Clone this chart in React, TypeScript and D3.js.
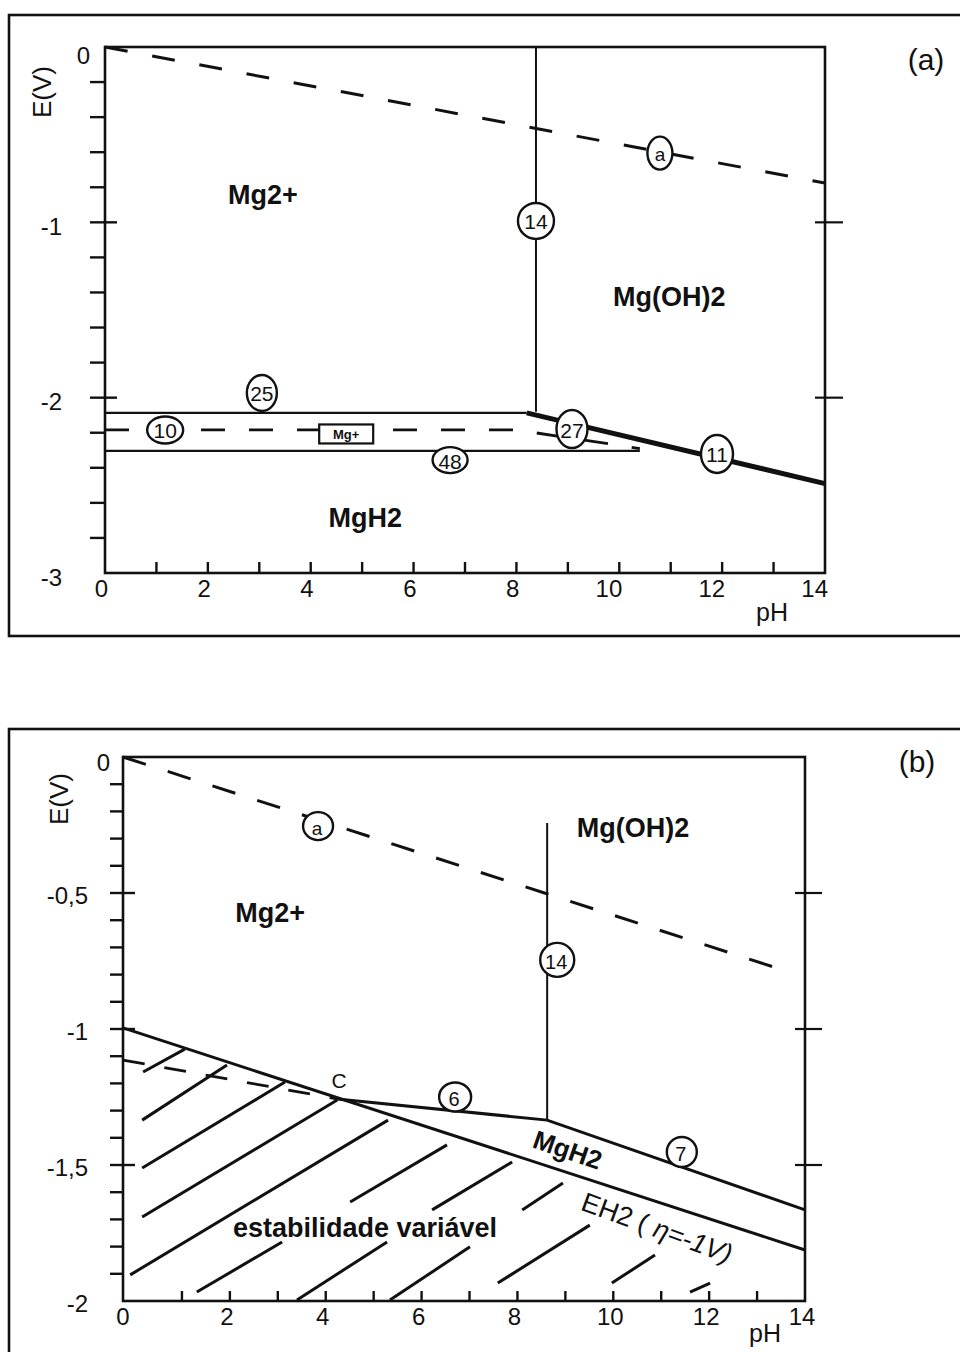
import React from 'react';
import * as d3 from 'd3';

const FONT = "'Liberation Sans', Arial, Helvetica, sans-serif";

type Pt = [number, number];

// ---------------- Panel (a) data ----------------
const phTicksA = [1, 2, 3, 4, 5, 6, 7, 8, 9, 10, 11, 12, 13];
const phLabelsA = [0, 2, 4, 6, 8, 10, 12, 14];
const eMinorTicksA = [-0.2, -0.4, -0.6, -0.8, -1.2, -1.4, -1.6, -1.8, -2.2, -2.4, -2.6, -2.8];
const eMajorTicksA = [-1, -2];
const eLabelValuesA = [0, -1, -2, -3];
const eLabelTextA = ['0', '-1', '-2', '-3'];

const waterLineA: Pt[] = [[0, 0], [14, -0.776]];
const hydroxideBoundaryA: Pt[] = [[8.38, 0], [8.38, -2.08]];
const upperLineA: Pt[] = [[0, -2.087], [8.2, -2.087]];
const mgPlusLineA: Pt[] = [[0, -2.184], [8.0, -2.184], [10.4, -2.29]];
const lowerLineA: Pt[] = [[0, -2.304], [10.4, -2.304]];
const thickLineA: Pt[] = [[8.2, -2.087], [14, -2.49]];

const markersA = [
  { label: 'a', pH: 10.79, E: -0.605 },
  { label: '14', pH: 8.38, E: -0.992 },
  { label: '25', pH: 3.05, E: -1.973 },
  { label: '10', pH: 1.17, E: -2.184 },
  { label: '48', pH: 6.71, E: -2.356 },
  { label: '27', pH: 9.08, E: -2.179 },
  { label: '11', pH: 11.9, E: -2.321 },
];
const regionsA = [
  { text: 'Mg2+', pH: 3.07, E: -0.844 },
  { text: 'Mg(OH)2', pH: 10.97, E: -1.426 },
  { text: 'MgH2', pH: 5.06, E: -2.686 },
];
const mgPlusA = { text: 'Mg+', pH: 4.69, E: -2.207 };

// ---------------- Panel (b) data ----------------
const phTicksB = [1, 2, 3, 4, 5, 6, 7, 8, 9, 10, 11, 12, 13];
const phLabelsB = [0, 2, 4, 6, 8, 10, 12, 14];
const eMinorTicksB = [-0.1, -0.2, -0.3, -0.4, -0.6, -0.7, -0.8, -0.9, -1.1, -1.2, -1.3, -1.4, -1.6, -1.7, -1.8, -1.9];
const eMajorTicksB = [-0.5, -1, -1.5];
const eLabelValuesB = [0, -0.5, -1, -1.5, -2];
const eLabelTextB = ['0', '-0,5', '-1', '-1,5', '-2'];

const waterLineB: Pt[] = [[-0.23, 0], [13.75, -0.795]];
const eh2LineB: Pt[] = [[-0.23, -0.996], [14, -1.8125]];
const dashedHydrideB: Pt[] = [[-0.23, -1.114], [4.235, -1.257]];
const hydrideUpperB: Pt[] = [[4.235, -1.257], [8.62, -1.335], [14, -1.665]];
const hydroxideBoundaryB: Pt[] = [[8.62, -0.243], [8.62, -1.335]];
const hatchB: [Pt, Pt][] = [
  [[0.19, -1.158], [1.06, -1.074]],
  [[0.17, -1.335], [1.94, -1.132]],
  [[0.17, -1.511], [3.15, -1.195]],
  [[0.17, -1.691], [4.24, -1.261]],
  [[-0.08, -1.904], [5.3, -1.335]],
  [[1.31, -1.967], [3.09, -1.783]],
  [[4.51, -1.636], [6.53, -1.426]],
  [[3.4, -1.996], [5.28, -1.783]],
  [[6.22, -1.665], [7.89, -1.489]],
  [[5.34, -1.996], [7.01, -1.801]],
  [[8.1, -1.665], [8.95, -1.566]],
  [[7.59, -1.934], [9.51, -1.721]],
  [[9.97, -1.934], [10.87, -1.831]],
  [[11.6, -1.967], [12.02, -1.934]],
];
const markersB = [
  { label: 'a', pH: 3.84, E: -0.254 },
  { label: '14', pH: 8.83, E: -0.746 },
  { label: '6', pH: 6.7, E: -1.25 },
  { label: '7', pH: 11.43, E: -1.452 },
];
const regionsB = [
  { text: 'Mg(OH)2', pH: 10.41, E: -0.261 },
  { text: 'Mg2+', pH: 2.84, E: -0.574 },
  { text: 'estabilidade variável', pH: 4.82, E: -1.732 },
];
const pointCB = { text: 'C', pH: 4.28, E: -1.19 };
const hydrideLabelB = { text: 'MgH2', pH: 9.05, E: -1.445 };
const eh2LabelB = { pH: 10.91, E: -1.732 };

// ---------------- styles (sizes of marker ellipses) ----------------
const markerSizeA: Record<string, [number, number]> = {
  a: [12.5, 16.5], '14': [18, 18], '25': [15, 18], '10': [18, 13.5], '48': [17.5, 13], '27': [15.5, 19], '11': [16, 19],
};
const markerSizeB: Record<string, [number, number]> = {
  a: [15, 14], '14': [17, 17], '6': [16, 14.5], '7': [15, 15],
};

export default function App() {
  const xA = d3.scaleLinear().domain([0, 14]).range([105, 825]);
  const yA = d3.scaleLinear().domain([0, -3]).range([47, 573]);
  const xB = d3.scaleLinear().domain([-0.23, 14]).range([123, 805]);
  const yB = d3.scaleLinear().domain([0, -2]).range([757, 1301]);

  const lineA = d3.line<Pt>().x((d) => xA(d[0])).y((d) => yA(d[1]));
  const lineB = d3.line<Pt>().x((d) => xB(d[0])).y((d) => yB(d[1]));

  const stroke = '#111';
  const tickFont = 24;
  const regionFont = 27;

  const frame = (x: d3.ScaleLinear<number, number>, y: d3.ScaleLinear<number, number>) => {
    const [x0, x1] = x.range();
    const [y0, y1] = y.range();
    return <rect x={x0} y={y0} width={x1 - x0} height={y1 - y0} fill="none" stroke={stroke} strokeWidth={2.6} />;
  };

  return (
    <svg
      width={960}
      height={1352}
      viewBox="0 0 960 1352"
      style={{ position: 'absolute', left: 0, top: 0, display: 'block', background: '#fff' }}
      fontFamily={FONT}
    >
      <rect x={0} y={0} width={960} height={1352} fill="#fff" />

      {/* ================= PANEL (a) ================= */}
      <rect x={9} y={15} width={960} height={621} fill="none" stroke={stroke} strokeWidth={2.6} />
      <text x={926} y={59} fontSize={30} textAnchor="middle" dominantBaseline="central" fill={stroke}>(a)</text>

      <path d={lineA(waterLineA) || ''} fill="none" stroke={stroke} strokeWidth={3} strokeDasharray="23 25" />
      <path d={lineA(hydroxideBoundaryA) || ''} fill="none" stroke={stroke} strokeWidth={2} />
      <path d={lineA(upperLineA) || ''} fill="none" stroke={stroke} strokeWidth={2.2} />
      <path d={lineA(mgPlusLineA) || ''} fill="none" stroke={stroke} strokeWidth={2.8} strokeDasharray="24 24" />
      <path d={lineA(lowerLineA) || ''} fill="none" stroke={stroke} strokeWidth={2.2} />
      <path d={lineA(thickLineA) || ''} fill="none" stroke={stroke} strokeWidth={5} />

      {frame(xA, yA)}

      {eMinorTicksA.map((v) => (
        <line key={'amn' + v} x1={xA.range()[0] - 15} x2={xA.range()[0]} y1={yA(v)} y2={yA(v)} stroke={stroke} strokeWidth={2.4} />
      ))}
      {eMajorTicksA.map((v) => (
        <g key={'amj' + v}>
          <line x1={xA.range()[0] - 15} x2={xA.range()[0] + 12} y1={yA(v)} y2={yA(v)} stroke={stroke} strokeWidth={2.4} />
          <line x1={xA.range()[1] - 10} x2={xA.range()[1] + 18} y1={yA(v)} y2={yA(v)} stroke={stroke} strokeWidth={2.2} />
        </g>
      ))}
      {eLabelValuesA.map((v, i) => (
        <text key={'alb' + v} x={v === 0 ? xA.range()[0] - 15 : xA.range()[0] - 43} y={yA(v) + (v === 0 ? 8 : 4)}
          fontSize={tickFont} textAnchor="end" dominantBaseline="central" fill={stroke}>{eLabelTextA[i]}</text>
      ))}
      <text transform={`translate(42,92) rotate(-90)`} fontSize={26} textAnchor="middle" dominantBaseline="central" fill={stroke}>E(V)</text>

      {phTicksA.map((v) => (
        <line key={'axt' + v} x1={xA(v)} x2={xA(v)} y1={yA.range()[1]} y2={yA.range()[1] - 11} stroke={stroke} strokeWidth={2.4} />
      ))}
      {phLabelsA.map((v) => (
        <text key={'axl' + v} x={xA(v) + 3} y={588} fontSize={tickFont} textAnchor="end" dominantBaseline="central" fill={stroke}>{v}</text>
      ))}
      <text x={772} y={612} fontSize={25} textAnchor="middle" dominantBaseline="central" fill={stroke}>pH</text>

      <g transform={`translate(${xA(mgPlusA.pH)},${yA(mgPlusA.E)})`}>
        <rect x={-27} y={-9.5} width={54} height={19} fill="#fff" stroke={stroke} strokeWidth={2.2} />
        <text x={0} y={0.5} fontSize={13} fontWeight="bold" textAnchor="middle" dominantBaseline="central" fill={stroke}>{mgPlusA.text}</text>
      </g>

      {markersA.map((m) => {
        const [rx, ry] = markerSizeA[m.label];
        return (
          <g key={'amk' + m.label} transform={`translate(${xA(m.pH)},${yA(m.E)})`}>
            <ellipse rx={rx} ry={ry} fill="#fff" stroke={stroke} strokeWidth={2.4} />
            <text x={0} y={1} fontSize={m.label === 'a' ? 19 : 21} textAnchor="middle" dominantBaseline="central" fill={stroke}>{m.label}</text>
          </g>
        );
      })}

      {regionsA.map((r) => (
        <text key={'arg' + r.text} x={xA(r.pH)} y={yA(r.E)} fontSize={regionFont} fontWeight="bold" textAnchor="middle" dominantBaseline="central" fill={stroke}>{r.text}</text>
      ))}

      {/* ================= PANEL (b) ================= */}
      <rect x={9} y={729} width={960} height={700} fill="none" stroke={stroke} strokeWidth={2.6} />
      <text x={917} y={761} fontSize={30} textAnchor="middle" dominantBaseline="central" fill={stroke}>(b)</text>

      {hatchB.map((h, i) => (
        <path key={'hb' + i} d={lineB(h) || ''} fill="none" stroke={stroke} strokeWidth={3} />
      ))}

      <path d={lineB(waterLineB) || ''} fill="none" stroke={stroke} strokeWidth={3} strokeDasharray="24 23" />
      <path d={lineB(dashedHydrideB) || ''} fill="none" stroke={stroke} strokeWidth={2.8} strokeDasharray="22 20" />
      <path d={lineB(eh2LineB) || ''} fill="none" stroke={stroke} strokeWidth={3} />
      <path d={lineB(hydrideUpperB) || ''} fill="none" stroke={stroke} strokeWidth={3} />
      <path d={lineB(hydroxideBoundaryB) || ''} fill="none" stroke={stroke} strokeWidth={2} />

      {frame(xB, yB)}

      {eMinorTicksB.map((v) => (
        <line key={'bmn' + v} x1={xB.range()[0] - 13} x2={xB.range()[0]} y1={yB(v)} y2={yB(v)} stroke={stroke} strokeWidth={2.4} />
      ))}
      {eMajorTicksB.map((v) => (
        <g key={'bmj' + v}>
          <line x1={xB.range()[0] - 13} x2={xB.range()[0] + 12} y1={yB(v)} y2={yB(v)} stroke={stroke} strokeWidth={2.4} />
          <line x1={xB.range()[1] - 10} x2={xB.range()[1] + 17} y1={yB(v)} y2={yB(v)} stroke={stroke} strokeWidth={2.2} />
        </g>
      ))}
      {eLabelValuesB.map((v, i) => (
        <text key={'blb' + v} x={v === 0 ? xB.range()[0] - 13 : xB.range()[0] - 35} y={yB(v) + (v === 0 ? 5 : 2)}
          fontSize={tickFont} textAnchor="end" dominantBaseline="central" fill={stroke}>{eLabelTextB[i]}</text>
      ))}
      <text transform={`translate(59,799) rotate(-90)`} fontSize={26} textAnchor="middle" dominantBaseline="central" fill={stroke}>E(V)</text>

      {phTicksB.map((v) => (
        <line key={'bxt' + v} x1={xB(v)} x2={xB(v)} y1={yB.range()[1]} y2={yB.range()[1] - 10} stroke={stroke} strokeWidth={2.4} />
      ))}
      {phLabelsB.map((v) => (
        <text key={'bxl' + v} x={v === 0 ? xB.range()[0] : xB(v) - 3} y={1316} fontSize={tickFont} textAnchor="middle" dominantBaseline="central" fill={stroke}>{v}</text>
      ))}
      <text x={765} y={1333} fontSize={25} textAnchor="middle" dominantBaseline="central" fill={stroke}>pH</text>

      {markersB.map((m) => {
        const [rx, ry] = markerSizeB[m.label];
        return (
          <g key={'bmk' + m.label} transform={`translate(${xB(m.pH)},${yB(m.E)})`}>
            <ellipse rx={rx} ry={ry} fill="#fff" stroke={stroke} strokeWidth={2.4} />
            <text x={-1} y={2} fontSize={m.label === 'a' ? 19 : 20} textAnchor="middle" dominantBaseline="central" fill={stroke}>{m.label}</text>
          </g>
        );
      })}

      {regionsB.map((r) => (
        <text key={'brg' + r.text} x={xB(r.pH)} y={yB(r.E)} fontSize={regionFont} fontWeight="bold" textAnchor="middle" dominantBaseline="central" fill={stroke}>{r.text}</text>
      ))}
      <text x={xB(pointCB.pH)} y={yB(pointCB.E)} fontSize={21} textAnchor="middle" dominantBaseline="central" fill={stroke}>{pointCB.text}</text>
      <text transform={`translate(${xB(hydrideLabelB.pH)},${yB(hydrideLabelB.E)}) rotate(19)`} fontSize={26} fontWeight="bold" textAnchor="middle" dominantBaseline="central" fill={stroke}>{hydrideLabelB.text}</text>
      <text transform={`translate(${xB(eh2LabelB.pH)},${yB(eh2LabelB.E)}) rotate(20)`} fontSize={27} textAnchor="middle" dominantBaseline="central" fill={stroke}>
        EH2 ( <tspan fontStyle="italic">η=-1V)</tspan>
      </text>
    </svg>
  );
}
